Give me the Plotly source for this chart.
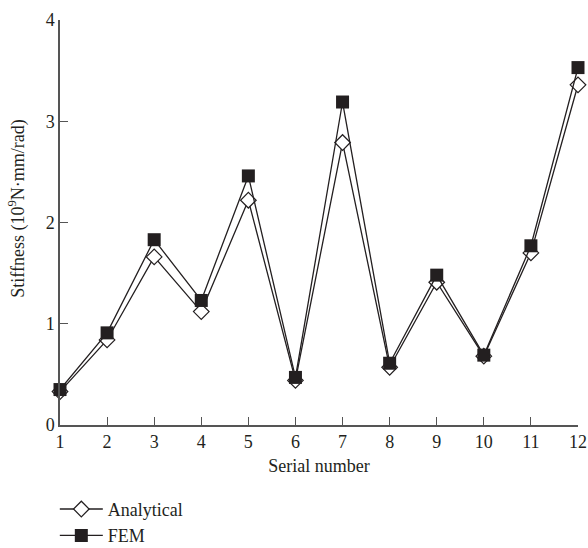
import plotly.graph_objects as go

serial = list(range(1, 13))
analytical = [0.33, 0.84, 1.66, 1.12, 2.22, 0.44, 2.79, 0.57, 1.41, 0.68, 1.70, 3.36]
fem = [0.35, 0.91, 1.83, 1.23, 2.46, 0.47, 3.19, 0.61, 1.48, 0.69, 1.77, 3.53]
x_ticks = list(range(1, 13))
y_ticks = [0, 1, 2, 3, 4]

FONT = "Liberation Serif"
INK = "#231f20"
AXIS = "#555555"

fig = go.Figure()
fig.add_trace(go.Scatter(
    x=serial, y=analytical, name="Analytical", mode="lines+markers",
    line=dict(color=INK, width=1.3),
    marker=dict(symbol="diamond", size=12, color="white",
                line=dict(color=INK, width=1.2)),
    cliponaxis=False,
))
fig.add_trace(go.Scatter(
    x=serial, y=fem, name="FEM", mode="lines+markers",
    line=dict(color=INK, width=1.3),
    marker=dict(symbol="square", size=13, color=INK,
                line=dict(color=INK, width=0)),
    cliponaxis=False,
))

fig.update_layout(
    width=588, height=548,
    margin=dict(l=60, r=10, t=20, b=122.5, autoexpand=False),
    paper_bgcolor="white", plot_bgcolor="white",
    font=dict(family=FONT, size=18, color=INK),
    showlegend=True,
    legend=dict(x=-0.01, y=-0.1625, xanchor="left", yanchor="top",
                bgcolor="rgba(0,0,0,0)", font=dict(size=18),
                tracegroupgap=0, itemwidth=43),
    xaxis=dict(range=[1, 12], tickvals=x_ticks, showgrid=False, zeroline=False,
               showline=True, linecolor=AXIS, linewidth=1.5, automargin=False,
               ticks="inside", ticklen=8, tickcolor=AXIS, tickwidth=1.3,
               title=dict(text="Serial number", standoff=8,
                          font=dict(size=18))),
    yaxis=dict(range=[0, 4], tickvals=y_ticks, showgrid=False, zeroline=False,
               showline=True, linecolor=AXIS, linewidth=1.5, automargin=False,
               ticks="inside", ticklen=8, tickcolor=AXIS, tickwidth=1.3),
    annotations=[dict(
        text="Stiffness (10<sup>9</sup>N·mm/rad)", textangle=-90,
        xref="paper", yref="paper", x=-0.083, y=0.534,
        xanchor="center", yanchor="middle", showarrow=False,
        font=dict(size=18, family=FONT, color=INK),
    )],
)

fig.write_html("out.html")
